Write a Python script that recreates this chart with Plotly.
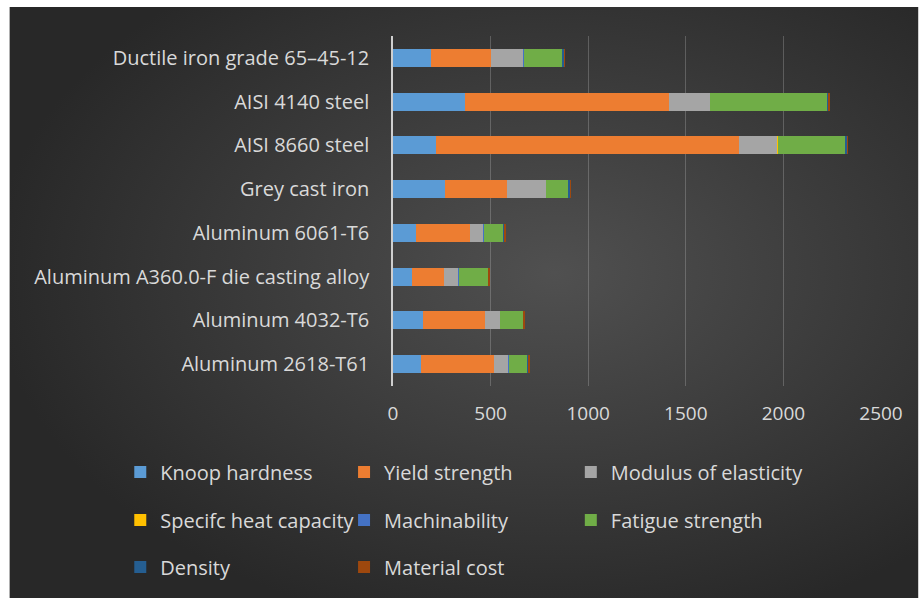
import base64
import plotly.graph_objects as go

# Materials, listed bottom-to-top as they appear on the category axis
materials = [
    "Aluminum 2618-T61",
    "Aluminum 4032-T6",
    "Aluminum A360.0-F die casting alloy",
    "Aluminum 6061-T6",
    "Grey cast iron",
    "AISI 8660 steel",
    "AISI 4140 steel",
    "Ductile iron grade 65\u201345-12",
]

knoop_hardness = [145, 153, 97, 120, 268, 218, 367, 196]
yield_strength = [371, 316, 162, 277, 317, 1554, 1047, 304]
modulus_of_elasticity = [76, 80, 77, 68, 199, 200, 210, 170]
specific_heat_capacity = [0.88, 0.86, 0.96, 0.90, 0.49, 0.47, 0.47, 0.46]
machinability = [0.5, 0.6, 0.7, 0.5, 0.7, 0.5, 0.65, 0.6]
fatigue_strength = [98, 116, 150, 102, 116, 346, 600, 199]
density = [2.76, 2.68, 2.63, 2.70, 7.15, 7.85, 7.85, 7.10]
material_cost = [3.5, 3.2, 2.8, 2.9, 1.2, 1.8, 1.6, 1.4]

series_names = [
    "Knoop hardness", "Yield strength", "Modulus of elasticity",
    "Specifc heat capacity", "Machinability", "Fatigue strength",
    "Density", "Material cost",
]
series_values = [
    knoop_hardness, yield_strength, modulus_of_elasticity,
    specific_heat_capacity, machinability, fatigue_strength,
    density, material_cost,
]
series_colors = [
    "#5B9BD5", "#ED7D31", "#A5A5A5",
    "#FFC000", "#4472C4", "#70AD47",
    "#255E91", "#9E480E",
]

x_ticks = [0, 500, 1000, 1500, 2000, 2500]

FONT = "'Open Sans', Lato, sans-serif"
TEXT = "#d9d9d9"

W, H = 919, 598
ML, MR, MT, MB = 393, 37.5, 36, 212
pw, ph = W - ML - MR, H - MT - MB


def px_to_paper_x(px):
    return (px - ML) / pw


def px_to_paper_y(py):
    return (H - MB - py) / ph


fig = go.Figure()
for i, (name, vals, color) in enumerate(zip(series_names, series_values, series_colors)):
    fig.add_trace(go.Bar(
        y=materials, x=vals, name=name, orientation="h",
        marker=dict(color=color, line=dict(width=0)),
        legend="legend" if i == 0 else f"legend{i + 1}",
    ))

# Dark radial-gradient backdrop for the chart area
svg = (
    "<svg xmlns='http://www.w3.org/2000/svg' width='910' height='591' "
    "preserveAspectRatio='none'>"
    "<defs><radialGradient id='g' cx='0.6' cy='0.45' r='0.62'>"
    "<stop offset='0' stop-color='#505050'/>"
    "<stop offset='1' stop-color='#282828'/>"
    "</radialGradient></defs>"
    "<rect width='910' height='591' fill='url(#g)'/></svg>"
)
src = "data:image/svg+xml;base64," + base64.b64encode(svg.encode()).decode()

fig.add_layout_image(dict(
    source=src, xref="paper", yref="paper",
    x=px_to_paper_x(9), y=px_to_paper_y(7),
    sizex=px_to_paper_x(W) - px_to_paper_x(9),
    sizey=px_to_paper_y(7) - px_to_paper_y(H),
    xanchor="left", yanchor="top", sizing="stretch", layer="below",
))

# Legend grid: three columns, three rows, one legend box per entry
col_px = [120, 344, 571]
row_px = [472, 520, 567]
legends = {}
for i in range(len(series_names)):
    r, c = divmod(i, 3)
    key = "legend" if i == 0 else f"legend{i + 1}"
    legends[key] = dict(
        orientation="h", xref="paper", yref="paper",
        xanchor="left", yanchor="middle",
        x=px_to_paper_x(col_px[c]), y=px_to_paper_y(row_px[r]),
        font=dict(family=FONT, size=20, color=TEXT),
        bgcolor="rgba(0,0,0,0)", itemwidth=30,
    )

fig.update_layout(
    width=W, height=H,
    margin=dict(l=ML, r=MR, t=MT, b=MB, pad=0, autoexpand=False),
    paper_bgcolor="white",
    plot_bgcolor="rgba(0,0,0,0)",
    barmode="stack",
    bargap=0.59,
    font=dict(family=FONT, color=TEXT),
    xaxis=dict(
        range=[0, 2500], tickvals=x_ticks, ticktext=[str(v) for v in x_ticks],
        showgrid=True, gridcolor="rgba(217,217,217,0.25)", gridwidth=1,
        zeroline=False, showline=False, ticks="",
        tickfont=dict(family=FONT, size=19, color=TEXT),
        ticklabelstandoff=14, fixedrange=True,
    ),
    yaxis=dict(
        categoryorder="array", categoryarray=materials,
        showgrid=False, zeroline=False,
        showline=True, linecolor="#cfcfcf", linewidth=1.5,
        ticks="", tickfont=dict(family=FONT, size=20, color=TEXT),
        ticklabelstandoff=18, fixedrange=True,
    ),
    showlegend=True,
    **legends,
)

fig.write_html("out.html")
